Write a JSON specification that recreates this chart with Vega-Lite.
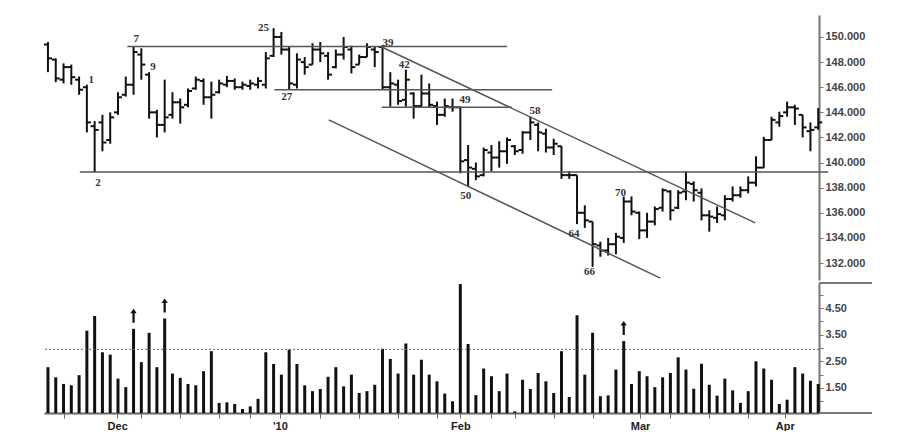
{
  "$schema": "https://vega.github.io/schema/vega-lite/v6.json",
  "background": "white",
  "padding": {"left": 42, "top": 15, "right": 0, "bottom": 0},
  "spacing": 0,
  "config": {"view": {"stroke": null}, "axis": {"grid": false, "labelOverlap": false, "labelFlush": false}},
  "datasets": {
    "ohlc": [
      {"i":-4,"high":149.6,"low":147.2,"open":149.4,"close":148.3},
      {"i":-3,"high":148.3,"low":146.4,"open":148.2,"close":146.7},
      {"i":-2,"high":147.9,"low":146.3,"open":146.6,"close":147.6},
      {"i":-1,"high":147.8,"low":146.2,"open":147.6,"close":146.8},
      {"i":0,"high":146.85,"low":145.4,"open":146.6,"close":145.8},
      {"i":1,"high":146.2,"low":142.4,"open":146.0,"close":143.2},
      {"i":2,"high":143.3,"low":139.25,"open":142.9,"close":142.6},
      {"i":3,"high":143.8,"low":140.9,"open":143.2,"close":141.6},
      {"i":4,"high":144.0,"low":141.5,"open":141.8,"close":143.6},
      {"i":5,"high":145.6,"low":143.8,"open":144.0,"close":145.2},
      {"i":6,"high":146.85,"low":145.25,"open":145.4,"close":146.2},
      {"i":7,"high":149.25,"low":145.4,"open":146.2,"close":148.8},
      {"i":8,"high":149.1,"low":146.6,"open":148.6,"close":147.8},
      {"i":9,"high":147.2,"low":143.5,"open":147.0,"close":144.0},
      {"i":10,"high":144.2,"low":142.0,"open":144.0,"close":143.0},
      {"i":11,"high":146.6,"low":142.4,"open":143.0,"close":143.6},
      {"i":12,"high":145.6,"low":143.5,"open":143.8,"close":144.8},
      {"i":13,"high":145.1,"low":143.1,"open":144.8,"close":144.4},
      {"i":14,"high":145.9,"low":144.4,"open":144.6,"close":145.7},
      {"i":15,"high":146.85,"low":145.8,"open":145.9,"close":146.6},
      {"i":16,"high":146.7,"low":144.6,"open":146.5,"close":145.2},
      {"i":17,"high":146.45,"low":143.5,"open":145.2,"close":145.4},
      {"i":18,"high":146.6,"low":145.5,"open":145.6,"close":146.3},
      {"i":19,"high":146.9,"low":146.0,"open":146.2,"close":146.5},
      {"i":20,"high":146.7,"low":145.8,"open":146.5,"close":146.0},
      {"i":21,"high":146.45,"low":145.8,"open":146.0,"close":146.2},
      {"i":22,"high":146.6,"low":145.8,"open":146.1,"close":146.3},
      {"i":23,"high":146.8,"low":145.9,"open":146.2,"close":146.5},
      {"i":24,"high":148.8,"low":145.9,"open":146.2,"close":148.3},
      {"i":25,"high":150.7,"low":148.4,"open":148.5,"close":150.0},
      {"i":26,"high":150.4,"low":148.6,"open":150.0,"close":149.0},
      {"i":27,"high":149.2,"low":145.8,"open":149.0,"close":146.3},
      {"i":28,"high":148.7,"low":145.9,"open":146.2,"close":148.2},
      {"i":29,"high":148.4,"low":147.0,"open":148.0,"close":147.6},
      {"i":30,"high":149.5,"low":147.8,"open":147.8,"close":149.0},
      {"i":31,"high":149.6,"low":148.0,"open":149.0,"close":148.7},
      {"i":32,"high":148.8,"low":146.6,"open":148.5,"close":147.0},
      {"i":33,"high":149.0,"low":147.5,"open":147.6,"close":148.6},
      {"i":34,"high":150.0,"low":148.2,"open":148.6,"close":149.2},
      {"i":35,"high":149.3,"low":147.1,"open":149.0,"close":147.6},
      {"i":36,"high":148.6,"low":147.8,"open":147.8,"close":148.4},
      {"i":37,"high":149.5,"low":148.4,"open":148.4,"close":149.2},
      {"i":38,"high":149.2,"low":147.6,"open":149.0,"close":148.8},
      {"i":39,"high":149.35,"low":145.8,"open":149.2,"close":146.0},
      {"i":40,"high":147.2,"low":144.45,"open":146.0,"close":146.3},
      {"i":41,"high":146.6,"low":144.6,"open":146.2,"close":144.9},
      {"i":42,"high":147.4,"low":144.45,"open":145.0,"close":146.6},
      {"i":43,"high":145.6,"low":143.5,"open":145.5,"close":144.5},
      {"i":44,"high":147.0,"low":144.45,"open":144.5,"close":145.5},
      {"i":45,"high":146.3,"low":144.35,"open":145.5,"close":144.6},
      {"i":46,"high":144.85,"low":143.0,"open":144.5,"close":143.8},
      {"i":47,"high":145.1,"low":143.65,"open":143.8,"close":144.5},
      {"i":48,"high":145.1,"low":144.05,"open":144.4,"close":144.4},
      {"i":49,"high":144.45,"low":139.15,"open":144.4,"close":140.1},
      {"i":50,"high":141.4,"low":138.1,"open":140.2,"close":139.6},
      {"i":51,"high":140.0,"low":138.6,"open":139.5,"close":138.9},
      {"i":52,"high":141.2,"low":138.9,"open":139.0,"close":141.0},
      {"i":53,"high":141.4,"low":139.3,"open":140.8,"close":140.4},
      {"i":54,"high":141.7,"low":139.6,"open":140.4,"close":140.9},
      {"i":55,"high":142.0,"low":139.9,"open":140.9,"close":141.8},
      {"i":56,"high":141.4,"low":140.6,"open":141.3,"close":140.9},
      {"i":57,"high":142.5,"low":140.7,"open":141.0,"close":142.4},
      {"i":58,"high":143.65,"low":141.8,"open":142.4,"close":143.2},
      {"i":59,"high":143.2,"low":140.9,"open":143.0,"close":142.4},
      {"i":60,"high":142.7,"low":140.8,"open":142.3,"close":141.2},
      {"i":61,"high":141.9,"low":140.6,"open":141.2,"close":141.5},
      {"i":62,"high":141.3,"low":138.7,"open":141.3,"close":139.0},
      {"i":63,"high":139.3,"low":138.7,"open":139.0,"close":139.0},
      {"i":64,"high":139.0,"low":135.1,"open":139.0,"close":136.0},
      {"i":65,"high":136.6,"low":134.8,"open":136.0,"close":135.4},
      {"i":66,"high":135.3,"low":131.7,"open":135.3,"close":133.5},
      {"i":67,"high":133.7,"low":132.5,"open":133.4,"close":133.0},
      {"i":68,"high":134.0,"low":132.6,"open":133.0,"close":133.5},
      {"i":69,"high":134.4,"low":132.7,"open":133.5,"close":134.1},
      {"i":70,"high":137.3,"low":133.6,"open":134.0,"close":136.9},
      {"i":71,"high":137.3,"low":135.8,"open":136.9,"close":136.1},
      {"i":72,"high":136.1,"low":133.9,"open":136.0,"close":134.6},
      {"i":73,"high":136.0,"low":134.0,"open":134.6,"close":135.3},
      {"i":74,"high":136.5,"low":135.0,"open":135.3,"close":136.3},
      {"i":75,"high":137.95,"low":136.1,"open":136.4,"close":137.8},
      {"i":76,"high":137.8,"low":135.4,"open":137.7,"close":136.2},
      {"i":77,"high":137.8,"low":136.3,"open":136.4,"close":137.6},
      {"i":78,"high":139.3,"low":137.0,"open":137.7,"close":138.4},
      {"i":79,"high":138.5,"low":136.9,"open":138.3,"close":137.8},
      {"i":80,"high":137.95,"low":135.4,"open":137.6,"close":135.8},
      {"i":81,"high":136.2,"low":134.5,"open":135.8,"close":135.7},
      {"i":82,"high":136.5,"low":135.2,"open":135.6,"close":135.9},
      {"i":83,"high":137.4,"low":135.4,"open":135.8,"close":137.1},
      {"i":84,"high":138.1,"low":136.9,"open":137.1,"close":137.4},
      {"i":85,"high":138.1,"low":137.2,"open":137.4,"close":137.8},
      {"i":86,"high":138.9,"low":137.55,"open":137.8,"close":138.4},
      {"i":87,"high":140.5,"low":138.1,"open":138.4,"close":139.6},
      {"i":88,"high":142.05,"low":139.55,"open":139.6,"close":141.8},
      {"i":89,"high":143.65,"low":141.8,"open":141.8,"close":143.4},
      {"i":90,"high":144.05,"low":142.85,"open":143.2,"close":143.7},
      {"i":91,"high":144.85,"low":143.65,"open":144.0,"close":144.4},
      {"i":92,"high":144.6,"low":143.0,"open":144.4,"close":144.3},
      {"i":93,"high":143.8,"low":142.0,"open":143.8,"close":142.8},
      {"i":94,"high":143.2,"low":140.9,"open":142.5,"close":142.6},
      {"i":95,"high":144.35,"low":142.6,"open":142.8,"close":143.2}
    ],
    "vol": [
      {"i":-4,"vol":2.28},{"i":-3,"vol":1.90},{"i":-2,"vol":1.65},{"i":-1,"vol":1.60},{"i":0,"vol":1.98},
      {"i":1,"vol":3.65},{"i":2,"vol":4.20},{"i":3,"vol":2.84},{"i":4,"vol":2.75},{"i":5,"vol":1.85},
      {"i":6,"vol":1.53},{"i":7,"vol":3.72,"up":1},{"i":8,"vol":2.47},{"i":9,"vol":3.57},{"i":10,"vol":2.28},
      {"i":11,"vol":4.11,"up":1},{"i":12,"vol":2.04},{"i":13,"vol":1.88},{"i":14,"vol":1.65},{"i":15,"vol":1.60},
      {"i":16,"vol":2.13},{"i":17,"vol":2.88},{"i":18,"vol":0.94},{"i":19,"vol":0.96},{"i":20,"vol":0.90},
      {"i":21,"vol":0.71},{"i":22,"vol":0.81},{"i":23,"vol":1.09},{"i":24,"vol":2.84},{"i":25,"vol":2.40},
      {"i":26,"vol":2.00},{"i":27,"vol":2.94},{"i":28,"vol":2.40},{"i":29,"vol":1.60},{"i":30,"vol":1.38},
      {"i":31,"vol":1.46},{"i":32,"vol":1.92},{"i":33,"vol":2.28},{"i":34,"vol":1.56},{"i":35,"vol":2.00},
      {"i":36,"vol":1.31},{"i":37,"vol":1.38},{"i":38,"vol":1.62},{"i":39,"vol":2.97},{"i":40,"vol":2.59},
      {"i":41,"vol":2.04},{"i":42,"vol":3.17},{"i":43,"vol":2.00},{"i":44,"vol":2.56},{"i":45,"vol":2.00},
      {"i":46,"vol":1.75},{"i":47,"vol":1.29},{"i":48,"vol":1.00},{"i":49,"vol":5.40},{"i":50,"vol":3.15},
      {"i":51,"vol":1.23},{"i":52,"vol":2.23},{"i":53,"vol":1.94},{"i":54,"vol":1.38},{"i":55,"vol":2.04},
      {"i":56,"vol":0.62},{"i":57,"vol":1.81},{"i":58,"vol":1.46},{"i":59,"vol":2.06},{"i":60,"vol":1.75},
      {"i":61,"vol":1.31},{"i":62,"vol":2.88},{"i":63,"vol":1.16},{"i":64,"vol":4.23},{"i":65,"vol":2.00},
      {"i":66,"vol":3.57},{"i":67,"vol":1.19},{"i":68,"vol":1.22},{"i":69,"vol":2.19},{"i":70,"vol":3.26,"up":1},
      {"i":71,"vol":1.65},{"i":72,"vol":2.13},{"i":73,"vol":1.94},{"i":74,"vol":1.53},{"i":75,"vol":1.90},
      {"i":76,"vol":2.06},{"i":77,"vol":2.65},{"i":78,"vol":2.19},{"i":79,"vol":1.47},{"i":80,"vol":2.41},
      {"i":81,"vol":1.62},{"i":82,"vol":1.21},{"i":83,"vol":1.85},{"i":84,"vol":1.41},{"i":85,"vol":0.94},
      {"i":86,"vol":1.38},{"i":87,"vol":2.50},{"i":88,"vol":2.23},{"i":89,"vol":1.81},{"i":90,"vol":0.90},
      {"i":91,"vol":1.06},{"i":92,"vol":2.28},{"i":93,"vol":2.04},{"i":94,"vol":1.77},{"i":95,"vol":1.65}
    ],
    "lines": [
      {"id":"down_upper","i":38.9,"v":149.2},{"id":"down_upper","i":86.9,"v":135.2},
      {"id":"down_lower","i":32.1,"v":143.4},{"id":"down_lower","i":74.7,"v":130.8},
      {"id":"h7","i":6.2,"v":149.25},{"id":"h7","i":55.0,"v":149.25},
      {"id":"h27","i":25.1,"v":145.8},{"id":"h27","i":60.8,"v":145.8},
      {"id":"h49","i":38.9,"v":144.4},{"id":"h49","i":55.6,"v":144.4},
      {"id":"h2","i":0.1,"v":139.25},{"id":"h2","i":96.3,"v":139.25}
    ],
    "labels": [
      {"t":"1","i":1.57,"v":146.6},{"t":"2","i":2.43,"v":138.4},{"t":"7","i":7.35,"v":149.8},
      {"t":"9","i":9.5,"v":147.6},{"t":"25","i":23.7,"v":150.7},{"t":"27","i":26.7,"v":145.2},
      {"t":"39","i":39.7,"v":149.5},{"t":"42","i":41.8,"v":147.75},{"t":"49","i":49.6,"v":145.0},
      {"t":"50","i":49.7,"v":137.3},{"t":"58","i":58.6,"v":144.1},{"t":"64","i":63.6,"v":134.3},
      {"t":"66","i":65.6,"v":131.3},{"t":"70","i":69.6,"v":137.6}
    ]
  },
  "vconcat": [
    {
      "width": 775,
      "height": 265,
      "layer": [
        {
          "data": {"name": "ohlc"},
          "mark": {"type": "rule", "strokeWidth": 2, "color": "#111"},
          "encoding": {
            "x": {"field": "i", "type": "quantitative", "scale": {"domain": [-4.51, 95.1], "nice": false, "zero": false}, "axis": null},
            "y": {"field": "low", "type": "quantitative", "scale": {"domain": [130.65, 151.75], "nice": false, "zero": false},
              "axis": {"orient": "right", "title": null, "grid": false, "values": [132,134,136,138,140,142,144,146,148,150], "tickCount": 200, "format": ".3f",
                "domainColor": "#777", "domainWidth": 2, "tickColor": "#777", "tickSize": 4, "labelFont": "Liberation Sans", "labelFontWeight": "bold",
                "labelFontSize": 11, "labelColor": "#444", "labelPadding": 2, "labelOverlap": false}},
            "y2": {"field": "high"}
          }
        },
        {
          "data": {"name": "ohlc"},
          "mark": {"type": "rule", "strokeWidth": 2, "color": "#111", "x2Offset": -4},
          "encoding": {
            "x": {"field": "i", "type": "quantitative", "axis": null},
            "x2": {"field": "i"},
            "y": {"field": "open", "type": "quantitative"}
          }
        },
        {
          "data": {"name": "ohlc"},
          "mark": {"type": "rule", "strokeWidth": 2, "color": "#111", "x2Offset": 4},
          "encoding": {
            "x": {"field": "i", "type": "quantitative", "axis": null},
            "x2": {"field": "i"},
            "y": {"field": "close", "type": "quantitative"}
          }
        },
        {
          "data": {"name": "lines"},
          "mark": {"type": "line", "strokeWidth": 1.5, "color": "#555", "clip": false},
          "encoding": {
            "x": {"field": "i", "type": "quantitative", "axis": null},
            "y": {"field": "v", "type": "quantitative"},
            "detail": {"field": "id"}
          }
        },
        {
          "data": {"name": "labels"},
          "mark": {"type": "text", "font": "Liberation Serif", "fontWeight": "bold", "fontSize": 11, "color": "#333"},
          "encoding": {
            "x": {"field": "i", "type": "quantitative", "axis": null},
            "y": {"field": "v", "type": "quantitative"},
            "text": {"field": "t"}
          }
        }
      ]
    },
    {
      "width": 775,
      "height": 130,
      "layer": [
        {
          "data": {"name": "vol"},
          "mark": {"type": "rule", "strokeWidth": 3, "color": "#111"},
          "encoding": {
            "x": {"field": "i", "type": "quantitative", "scale": {"domain": [-4.51, 95.1], "nice": false, "zero": false},
              "axis": {"orient": "bottom", "title": null, "grid": false,
                "values": [-2, 4.9, 8, 13, 18, 22, 25.8, 31, 36, 41, 46, 49, 53, 56, 61, 66, 72.1, 76, 81, 86, 90.7], "tickCount": 200,
                "labelExpr": "datum.value == 4.9 ? 'Dec' : datum.value == 25.8 ? \"'10\" : datum.value == 49 ? 'Feb' : datum.value == 72.1 ? 'Mar' : datum.value == 90.7 ? 'Apr' : ''",
                "domainColor": "#666", "domainWidth": 2, "tickColor": "#666", "tickSize": 5, "labelFont": "Liberation Sans", "labelFontWeight": "bold",
                "labelFontSize": 11, "labelColor": "#222", "labelPadding": 2, "labelOverlap": false, "labelFlush": false}},
            "y": {"field": "vol", "type": "quantitative", "scale": {"domain": [0.56, 5.44], "nice": false, "zero": false},
              "axis": {"orient": "right", "title": null, "grid": false, "values": [1,1.5,2,2.5,3,3.5,4,4.5,5], "tickCount": 200,
                "labelExpr": "(datum.value*2)%2 == 1 ? format(datum.value, '.2f') : ''",
                "domainColor": "#777", "domainWidth": 2, "tickColor": "#777", "tickSize": 4, "labelFont": "Liberation Sans", "labelFontWeight": "bold",
                "labelFontSize": 11, "labelColor": "#444", "labelPadding": 2, "labelOverlap": false}},
            "y2": {"datum": 0.56}
          }
        },
        {
          "data": {"values": [{}]},
          "mark": {"type": "rule", "strokeDash": [2, 2], "color": "#666", "strokeWidth": 1},
          "encoding": {"y": {"datum": 2.95, "type": "quantitative"}}
        },
        {
          "data": {"name": "vol"},
          "transform": [{"filter": "datum.up == 1"}],
          "mark": {"type": "point", "filled": true, "color": "#111", "opacity": 1, "size": 196, "yOffset": -13,
            "shape": "M0,-1 L0.45,-0.35 L0.16,-0.35 L0.16,1 L-0.16,1 L-0.16,-0.35 L-0.45,-0.35 Z"},
          "encoding": {
            "x": {"field": "i", "type": "quantitative"},
            "y": {"field": "vol", "type": "quantitative"}
          }
        },
        {
          "data": {"values": [{"a": 95.1, "b": 101.9, "y": 5.44}, {"a": 95.1, "b": 101.9, "y": 0.56}]},
          "mark": {"type": "rule", "color": "#777", "strokeWidth": 2, "clip": false},
          "encoding": {
            "x": {"field": "a", "type": "quantitative"},
            "x2": {"field": "b"},
            "y": {"field": "y", "type": "quantitative"}
          }
        }
      ]
    }
  ]
}
